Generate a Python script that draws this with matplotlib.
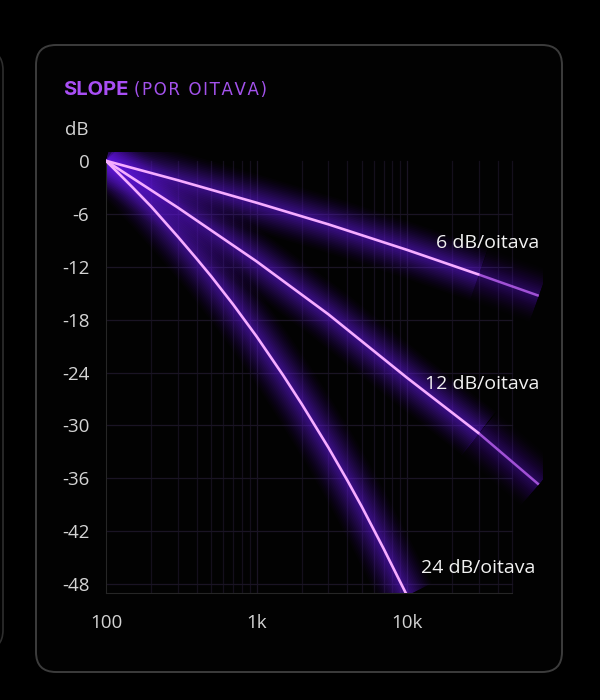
import numpy as np
import matplotlib
matplotlib.use("Agg")
import matplotlib.pyplot as plt
from matplotlib.patches import FancyBboxPatch

# valores (Hz, dB)
freq_6 = [100, 300, 1000, 3000, 10000, 30000, 75000]
db_6 = [0, -2.2, -4.75, -7.2, -10.1, -12.9, -15.3]

freq_12 = [100, 300, 1000, 3000, 10000, 30000, 75000]
db_12 = [0, -5.3, -11.4, -17.4, -24.6, -30.9, -36.7]

freq_24 = [100, 150, 200, 300, 400, 500, 700, 1000, 1500, 2000, 3000, 4000,
           5000, 7000, 10000]
db_24 = [0, -3.0, -5.2, -8.6, -11.1, -13.1, -16.3, -19.9, -24.3, -27.6, -32.5,
         -36.2, -39.2, -44.0, -49.3]

curve_labels = ["6 dB/oitava", "12 dB/oitava", "24 dB/oitava"]
label_pos = [(76000, -9.3), (76000, -25.3), (71000, -46.2)]

y_ticks = [0, -6, -12, -18, -24, -30, -36, -42, -48]
x_ticks = [100, 1000, 10000]
x_ticklabels = ["100", "1k", "10k"]

plt.rcParams["font.family"] = ["Open Sans", "DejaVu Sans"]

fig = plt.figure(figsize=(6, 7), dpi=100)
fig.patch.set_facecolor("black")

# painel arredondado
panel = FancyBboxPatch((0.36, 0.28), 5.26, 6.27,
                       boxstyle="round,pad=0,rounding_size=0.2",
                       transform=fig.dpi_scale_trans,
                       facecolor="#020202", edgecolor="#3c3c3c", lw=1.4,
                       zorder=-10)
fig.patches.append(panel)
# borda do painel vizinho
other = FancyBboxPatch((-2.0, 0.5), 2.03, 6.0,
                       boxstyle="round,pad=0,rounding_size=0.2",
                       transform=fig.dpi_scale_trans,
                       facecolor="#020202", edgecolor="#2e2e2e", lw=1.2,
                       zorder=-10)
fig.patches.append(other)

ax = fig.add_axes([106 / 600, 1 - 593 / 700, 437 / 600, 441 / 700])
ax.set_facecolor("none")
ax.set_xscale("log")
ax.set_xlim(100, 80000)
ax.set_ylim(-49, 1)

# grade
minor = [m * 10 ** e for e in (2, 3, 4) for m in range(2, 10)]
for v in minor:
    if v <= 50000:
        ax.axvline(v, ymin=0, ymax=0.98, color="#140f1c", lw=0.9, zorder=0)
for v in x_ticks[1:]:
    ax.axvline(v, ymin=0, ymax=0.98, color="#1a1424", lw=0.9, zorder=0)
for v in y_ticks[1:]:
    ax.plot([100, 50000], [v, v], color="#1a1424", lw=0.9, zorder=0)

# camadas do brilho: largura e opacidade
glow_widths = np.linspace(40, 3, 16)
glow_alphas = np.linspace(0.018, 0.08, 16)


def glow_path(x, y, dim):
    for lw, a in zip(glow_widths, glow_alphas):
        ax.plot(x, y, color="#7020f5", lw=lw, alpha=a * dim,
                solid_capstyle="butt", solid_joinstyle="round", zorder=2)


def glow_curve(x, y, tail):
    if tail:
        glow_path(x[:-1], y[:-1], 1.0)
        glow_path(x[-2:], y[-2:], 0.6)
        ax.plot(x[:-1], y[:-1], color="#f6adff", lw=1.9, zorder=3,
                solid_capstyle="round", solid_joinstyle="round")
        ax.plot(x[-2:], y[-2:], color="#c064f5", lw=1.8, alpha=0.8, zorder=3,
                solid_capstyle="butt")
    else:
        glow_path(x, y, 1.0)
        ax.plot(x, y, color="#f6adff", lw=1.9, zorder=3,
                solid_capstyle="round", solid_joinstyle="round")


glow_curve(freq_6, db_6, True)
glow_curve(freq_12, db_12, True)
glow_curve(freq_24, db_24, False)

for txt, (lx, ly) in zip(curve_labels, label_pos):
    ax.text(lx, ly, txt, color="#f2f2f2", fontsize=14, ha="right", va="center",
            zorder=4)

# eixos
for s in ["top", "right"]:
    ax.spines[s].set_visible(False)
ax.spines["left"].set_bounds(-49, 0)
ax.spines["bottom"].set_bounds(100, 50000)
ax.spines["left"].set_color("#262626")
ax.spines["bottom"].set_color("#262626")

ax.set_yticks(y_ticks)
ax.set_yticklabels([str(v) for v in y_ticks])
ax.set_xticks(x_ticks)
ax.set_xticklabels(x_ticklabels)
ax.xaxis.set_minor_locator(matplotlib.ticker.NullLocator())
ax.tick_params(axis="both", length=0, colors="#d4d4d4", labelsize=13.5)
ax.tick_params(axis="y", pad=12)
ax.tick_params(axis="x", pad=15)

fig.text(89 / 600, 1 - 130 / 700, "dB", color="#d4d4d4", fontsize=13.5,
         ha="right", va="center")

t1 = fig.text(63 / 600, 1 - 95 / 700, "SLOPE", color="#a94ff5",
              fontsize=14.5, fontweight="bold", family=["Inter", "DejaVu Sans"],
              ha="left", va="baseline")
subtitle = "\u200a".join("(POR OITAVA)")
ax.annotate(subtitle, xy=(1, 0), xycoords=t1, xytext=(4, 0),
            textcoords="offset points", color="#a352ec", fontsize=12,
            family=["DejaVu Sans"], ha="left", va="bottom",
            annotation_clip=False)

fig.savefig("out.png", dpi=100, facecolor="black")
